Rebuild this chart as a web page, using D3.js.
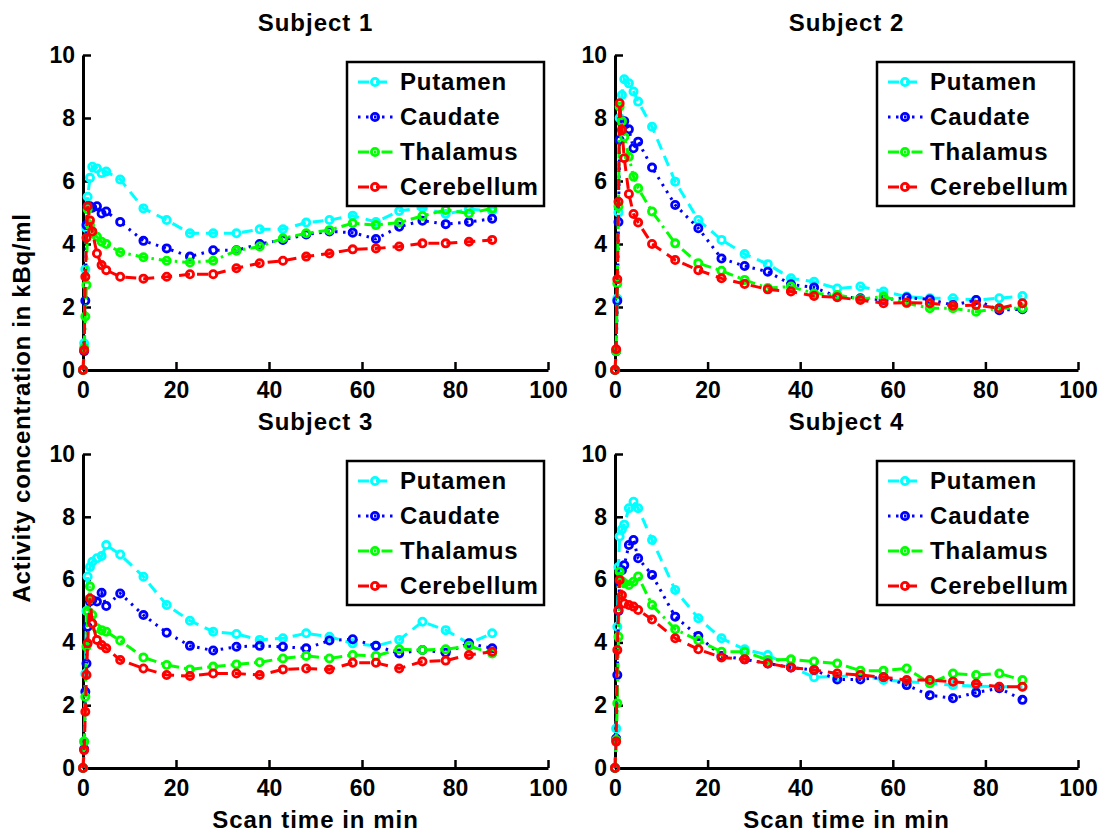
<!DOCTYPE html>
<html>
<head>
<meta charset="utf-8">
<script src="https://cdn.jsdelivr.net/npm/d3@7"></script>
<style>
  body { margin: 0; background: #fff; }
  svg text { font-family: "Liberation Sans", Arial, sans-serif; font-weight: bold; fill: #000; }
</style>
</head>
<body>
<svg id="chart" width="1107" height="834"></svg>
<script>
// frame mid-times in minutes, shared by all subjects
const times = [0, 0.25, 0.5, 0.75, 1, 1.5, 2, 3, 4, 5, 8, 13, 18, 23, 28, 33, 38, 43, 48, 53, 58, 63, 68, 73, 78, 83, 88];

const regions = ['Putamen', 'Caudate', 'Thalamus', 'Cerebellum'];
const subjects = ['Subject 1', 'Subject 2', 'Subject 3', 'Subject 4'];
const xTicks = [0, 20, 40, 60, 80, 100];
const yTicks = [0, 2, 4, 6, 8, 10];

const s1Putamen = [0, 0.85, 3.2, 4.5, 5.5, 6.1, 6.45, 6.4, 6.25, 6.3, 6.05, 5.13, 4.76, 4.34, 4.34, 4.34, 4.47, 4.47, 4.68, 4.76, 4.9, 4.7, 5.05, 5.15, 4.95, 5.1, 5.05];
const s1Caudate = [0, 0.6, 2.2, 4.6, 5.2, 5.2, 5.15, 5.2, 4.97, 5.03, 4.7, 4.1, 3.86, 3.6, 3.8, 3.8, 4.0, 4.13, 4.3, 4.4, 4.36, 4.16, 4.55, 4.74, 4.63, 4.7, 4.8];
const s1Thalamus = [0, 0.7, 1.7, 2.7, 5.1, 4.6, 4.34, 4.23, 4.07, 4.0, 3.74, 3.58, 3.47, 3.41, 3.47, 3.79, 3.92, 4.18, 4.34, 4.44, 4.66, 4.6, 4.68, 4.89, 5.08, 4.97, 5.13];
const s1Cerebellum = [0, 0.63, 2.96, 4.2, 5.2, 4.75, 4.4, 3.7, 3.33, 3.17, 2.96, 2.9, 2.96, 3.04, 3.04, 3.23, 3.39, 3.47, 3.6, 3.7, 3.83, 3.86, 3.92, 4.02, 4.02, 4.07, 4.13];

const s2Putamen = [0, 0.6, 2.27, 5.0, 8.0, 8.73, 9.23, 9.1, 8.84, 8.52, 7.72, 5.98, 4.76, 4.13, 3.68, 3.36, 2.91, 2.8, 2.59, 2.65, 2.49, 2.33, 2.28, 2.28, 2.22, 2.28, 2.35];
const s2Caudate = [0, 0.6, 2.2, 4.7, 7.3, 7.85, 7.9, 7.64, 7.04, 7.25, 6.43, 5.24, 4.5, 3.54, 3.3, 3.12, 2.72, 2.62, 2.33, 2.28, 2.22, 2.3, 2.24, 2.06, 2.22, 1.9, 1.93];
const s2Thalamus = [0, 0.6, 2.75, 5.2, 8.36, 7.9, 7.4, 6.77, 6.14, 5.77, 5.03, 4.02, 3.39, 3.15, 2.86, 2.6, 2.65, 2.43, 2.38, 2.25, 2.33, 2.12, 1.96, 1.96, 1.85, 1.96, 1.96];
const s2Cerebellum = [0, 0.66, 2.88, 5.34, 8.47, 7.62, 6.72, 5.59, 4.95, 4.68, 4.0, 3.49, 3.17, 2.91, 2.73, 2.56, 2.49, 2.35, 2.31, 2.22, 2.12, 2.14, 2.12, 2.04, 2.06, 1.96, 2.12];

const s3Putamen = [0, 0.84, 3.0, 5.0, 6.1, 6.4, 6.57, 6.68, 6.75, 7.1, 6.8, 6.09, 5.19, 4.69, 4.34, 4.27, 4.08, 4.13, 4.29, 4.18, 3.97, 3.89, 4.08, 4.66, 4.39, 3.97, 4.29];
const s3Caudate = [0, 0.6, 2.43, 3.33, 4.5, 5.3, 5.35, 5.3, 5.58, 5.16, 5.56, 4.87, 4.31, 3.89, 3.74, 3.86, 3.89, 3.86, 3.81, 4.06, 4.1, 3.89, 3.65, 3.76, 3.67, 3.97, 3.81];
const s3Thalamus = [0, 0.84, 2.27, 3.86, 5.0, 5.78, 4.87, 4.45, 4.39, 4.34, 4.06, 3.52, 3.28, 3.14, 3.23, 3.3, 3.37, 3.49, 3.57, 3.49, 3.6, 3.57, 3.78, 3.76, 3.78, 3.89, 3.65];
const s3Cerebellum = [0, 0.57, 1.79, 2.96, 3.97, 5.4, 4.6, 4.08, 3.92, 3.81, 3.44, 3.17, 2.96, 2.93, 3.01, 3.01, 2.96, 3.14, 3.17, 3.14, 3.35, 3.35, 3.17, 3.39, 3.42, 3.6, 3.7];

const s4Putamen = [0, 1.26, 4.5, 6.4, 7.37, 7.6, 7.75, 8.27, 8.48, 8.27, 7.26, 5.67, 4.77, 4.13, 3.78, 3.6, 3.23, 2.89, 2.91, 2.96, 2.8, 2.75, 2.7, 2.64, 2.61, 2.59, 2.59];
const s4Caudate = [0, 0.94, 2.96, 5.0, 5.93, 6.3, 6.46, 7.1, 7.26, 6.68, 6.15, 4.82, 4.2, 3.57, 3.46, 3.33, 3.2, 3.12, 2.82, 2.82, 2.9, 2.64, 2.32, 2.22, 2.4, 2.54, 2.17];
const s4Thalamus = [0, 0.89, 2.06, 4.18, 6.25, 5.95, 5.88, 5.83, 5.93, 6.1, 5.19, 4.42, 4.06, 3.7, 3.7, 3.44, 3.46, 3.39, 3.33, 3.1, 3.1, 3.17, 2.7, 3.01, 2.96, 3.01, 2.8];
const s4Cerebellum = [0, 0.84, 3.76, 5.03, 5.99, 5.5, 5.24, 5.19, 5.14, 5.03, 4.73, 4.13, 3.78, 3.52, 3.46, 3.33, 3.2, 3.12, 3.01, 2.96, 2.89, 2.8, 2.8, 2.75, 2.68, 2.59, 2.59];

const subjectData = [
    [s1Putamen, s1Caudate, s1Thalamus, s1Cerebellum],
    [s2Putamen, s2Caudate, s2Thalamus, s2Cerebellum],
    [s3Putamen, s3Caudate, s3Thalamus, s3Cerebellum],
    [s4Putamen, s4Caudate, s4Thalamus, s4Cerebellum]
];

// line styles: -- : -. --
const styles = [
    {color: '#00ffff', dash: '11,7'},
    {color: '#0000ff', dash: '2.5,5.5'},
    {color: '#00ff00', dash: '11,5,2.5,5'},
    {color: '#ff0000', dash: '11,7'}
];

// panel boxes (plot area in pixels)
const panels = [
    {left: 83, right: 548, top: 55, bottom: 370},
    {left: 615, right: 1078, top: 55, bottom: 370},
    {left: 83, right: 548, top: 454, bottom: 768},
    {left: 615, right: 1078, top: 454, bottom: 768}
];

const svg = d3.select('#chart');

panels.forEach(function(p, si) {
    let x = d3.scaleLinear().domain([0, 100]).range([p.left, p.right]);
    let y = d3.scaleLinear().domain([0, 10]).range([p.bottom, p.top]);
    let g = svg.append('g');

    // title
    g.append('text')
        .attr('x', (p.left + p.right) / 2)
        .attr('y', p.top - 24)
        .attr('text-anchor', 'middle')
        .style('font-size', '24px')
        .style('letter-spacing', '1px')
        .text(subjects[si]);

    // x axis
    let xAxisGroup = g.append('g')
        .attr('transform', 'translate(0,' + p.bottom + ')')
        .call(d3.axisBottom(x).tickValues(xTicks).tickSizeInner(-8).tickSizeOuter(0).tickPadding(12));
    xAxisGroup.select('.domain').attr('stroke', '#000').attr('stroke-width', 3);
    xAxisGroup.selectAll('.tick line').attr('stroke', '#000').attr('stroke-width', 2.5);
    xAxisGroup.selectAll('text')
        .style('font-size', '23px')
        .style('font-family', '"Liberation Sans", Arial, sans-serif')
        .style('font-weight', 'bold')
        .attr('fill', '#000');

    // y axis
    let yAxisGroup = g.append('g')
        .attr('transform', 'translate(' + p.left + ',0)')
        .call(d3.axisLeft(y).tickValues(yTicks).tickSizeInner(-8).tickSizeOuter(0).tickPadding(8));
    yAxisGroup.select('.domain').attr('stroke', '#000').attr('stroke-width', 3);
    yAxisGroup.selectAll('.tick line').attr('stroke', '#000').attr('stroke-width', 2.5);
    yAxisGroup.selectAll('text')
        .style('font-size', '23px')
        .style('font-family', '"Liberation Sans", Arial, sans-serif')
        .style('font-weight', 'bold')
        .attr('fill', '#000');

    // curves
    let line = d3.line()
        .x(function(d) { return x(d.t); })
        .y(function(d) { return y(d.v); });

    subjectData[si].forEach(function(values, ri) {
        let pts = values.map(function(v, i) { return {t: times[i], v: v}; });
        let st = styles[ri];
        g.append('path')
            .datum(pts)
            .attr('fill', 'none')
            .attr('stroke', st.color)
            .attr('stroke-width', 3)
            .attr('stroke-dasharray', st.dash)
            .attr('d', line);
        g.selectAll('.m' + ri)
            .data(pts)
            .enter().append('circle')
            .attr('class', 'm' + ri)
            .attr('cx', function(d) { return x(d.t); })
            .attr('cy', function(d) { return y(d.v); })
            .attr('r', 3.6)
            .attr('fill', 'none')
            .attr('stroke', st.color)
            .attr('stroke-width', 2.8);
    });

    // legend
    let lx = p.right - 201, ly = p.top + 7;
    let legend = g.append('g').attr('transform', 'translate(' + lx + ',' + ly + ')');
    legend.append('rect')
        .attr('x', 0).attr('y', 0)
        .attr('width', 197).attr('height', 144)
        .attr('fill', '#fff')
        .attr('stroke', '#000')
        .attr('stroke-width', 2.5);
    regions.forEach(function(name, ri) {
        let rowY = 20 + ri * 35;
        let st = styles[ri];
        legend.append('line')
            .attr('x1', 11).attr('x2', 47)
            .attr('y1', rowY).attr('y2', rowY)
            .attr('stroke', st.color)
            .attr('stroke-width', 3)
            .attr('stroke-dasharray', st.dash);
        legend.append('circle')
            .attr('cx', 28).attr('cy', rowY).attr('r', 3.6)
            .attr('fill', 'none')
            .attr('stroke', st.color)
            .attr('stroke-width', 2.8);
        legend.append('text')
            .attr('x', 53).attr('y', rowY + 8)
            .style('font-size', '24px')
            .style('letter-spacing', '0.8px')
            .text(name);
    });

    // x label on bottom row
    if (si >= 2) {
        g.append('text')
            .attr('x', (p.left + p.right) / 2)
            .attr('y', 828)
            .attr('text-anchor', 'middle')
            .style('font-size', '24px')
            .style('letter-spacing', '1px')
            .text('Scan time in min');
    }
});

// shared y label
svg.append('text')
    .attr('transform', 'translate(30,408) rotate(-90)')
    .attr('text-anchor', 'middle')
    .style('font-size', '24px')
    .style('letter-spacing', '0.7px')
    .text('Activity concentration in kBq/ml');
</script>
</body>
</html>
